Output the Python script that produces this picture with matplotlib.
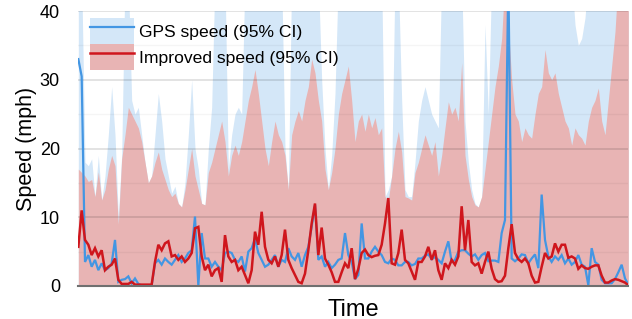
import numpy as np
import matplotlib
matplotlib.use("Agg")
import matplotlib.pyplot as plt
from matplotlib.patches import Patch
from matplotlib.lines import Line2D

plt.rcParams['font.family'] = ['Liberation Sans', 'DejaVu Sans']

# ---------------- data (speed in mph, uniform time samples) ----------------
gps_speed = [
    33.0, 30.5, 3.5, 4.5, 2.8, 3.8, 2.3, 3.3, 2.3, 2.6,
    3.3, 6.7, 0.6, 0.9, 1.0, 1.4, 0.4, 1.1, 0.3, 0.1,
    0.1, 0.1, 0.1, 3.3, 3.8, 3.1, 4.0, 3.5, 3.1, 3.8,
    4.5, 3.5, 4.0, 4.8, 5.2, 10.1, 0.0, 7.7, 4.0, 4.0,
    2.8, 3.5, 2.8, 2.3, 4.8, 5.0, 4.8, 3.8, 3.5, 4.3,
    2.1, 5.0, 5.5, 6.9, 4.8, 3.8, 2.8, 3.1, 3.8, 4.5,
    2.8, 3.8, 3.5, 5.5, 4.3, 3.8, 4.8, 2.8, 4.5, 5.7,
    8.6, 11.8, 3.8, 4.3, 2.8, 3.5, 2.6, 3.1, 3.8, 4.0,
    7.7, 4.5, 3.5, 1.0, 1.6, 9.1, 4.0, 4.0, 5.0, 5.7,
    5.0, 4.5, 3.5, 3.3, 4.0, 3.8, 3.0, 3.0, 3.5, 3.5,
    3.0, 3.2, 4.0, 4.0, 4.4, 4.6, 3.9, 4.2, 3.8, 3.3,
    5.0, 6.5, 3.5, 3.8, 5.0, 5.2, 5.2, 4.7, 4.3, 4.6,
    3.8, 4.5, 4.8, 3.6, 3.7, 3.7, 3.5, 7.7, 9.6, 45.0,
    4.0, 3.6, 4.0, 4.6, 4.5, 3.3, 4.0, 4.6, 2.6, 13.3,
    6.7, 4.3, 3.5, 4.3, 3.8, 4.5, 3.3, 4.0, 3.1, 3.5,
    4.5, 3.1, 2.8, 0.1, 5.5, 3.5, 3.1, 0.9, 0.4, 0.4,
    0.4, 1.0, 2.0, 3.1, 1.1, 0.2,
]

improved_speed = [
    5.7, 11.0, 6.7, 6.0, 4.5, 5.5, 4.3, 5.2, 2.3, 2.8,
    3.1, 4.0, 0.9, 0.3, 0.3, 0.3, 0.6, 0.2, 0.2, 0.2,
    0.2, 0.2, 0.2, 3.5, 6.0, 5.2, 6.2, 6.5, 4.3, 4.5,
    3.8, 4.3, 3.5, 4.0, 4.8, 8.4, 8.6, 4.3, 2.3, 3.1,
    1.4, 2.3, 2.6, 0.6, 7.4, 4.3, 3.5, 3.8, 2.3, 2.8,
    1.6, 0.4, 2.3, 7.9, 6.0, 10.8, 5.7, 3.8, 3.3, 4.3,
    2.8, 4.5, 8.2, 3.8, 2.6, 1.6, 0.6, 0.4, 1.8, 5.2,
    9.1, 12.0, 4.5, 8.5, 4.0, 3.1, 2.0, 0.6, 0.6, 2.0,
    3.3, 2.6, 5.5, 1.0, 2.5, 4.8, 5.3, 4.5, 4.2, 4.4,
    4.5, 6.0, 9.1, 12.8, 3.3, 3.1, 4.8, 8.2, 3.8, 3.3,
    2.1, 0.9, 3.5, 3.5, 4.3, 5.7, 3.8, 5.2, 2.3, 0.9,
    3.3, 2.6, 3.8, 3.1, 4.3, 11.6, 5.2, 9.6, 3.5, 3.0,
    3.3, 1.8, 3.5, 5.0, 2.5, 1.0, 0.6, 0.7, 1.5, 5.5,
    9.0, 4.8, 3.9, 3.5, 4.0, 3.3, 1.5, 0.5, 0.6, 2.8,
    4.8, 4.0, 4.3, 6.2, 5.0, 6.0, 6.0, 4.1, 4.3, 4.0,
    2.5, 3.0, 2.6, 2.5, 2.8, 3.0, 3.0, 1.5, 0.5, 0.5,
    0.8, 1.0, 0.9, 0.7, 0.5, 0.1,
]

gps_upper = [
    45, 45, 18, 17.5, 18.5, 13, 19, 12.5, 16, 22,
    29, 22, 10, 19, 45, 45, 27, 25, 26, 22,
    18, 15, 16, 22, 28, 24, 18.5, 16, 13.5, 14.5,
    12, 11.5, 15, 22, 30, 20, 17, 12, 11.8, 20,
    26, 45, 45, 45, 45, 17, 22, 25, 26, 25,
    45, 45, 45, 45, 45, 45, 45, 45, 45, 45,
    45, 45, 20, 14, 45, 45, 45, 45, 45, 45,
    45, 45, 45, 30, 20, 14, 19, 28, 45, 45,
    45, 45, 45, 45, 45, 45, 45, 45, 45, 45,
    45, 45, 13, 14, 16, 45, 45, 27, 14, 13,
    13, 18, 24, 27, 29, 27, 25, 24, 23, 45,
    45, 45, 45, 45, 45, 45, 24, 18, 14, 12,
    11.5, 13, 38, 25, 45, 45, 45, 45, 45, 45,
    45, 45, 45, 45, 45, 45, 45, 45, 45, 45,
    45, 45, 45, 45, 45, 45, 45, 45, 45, 38,
    35, 36, 39, 45, 45, 45, 45, 45, 45, 45,
    45, 45, 45, 45, 45, 45,
]

improved_upper = [
    17, 16.5, 16, 15.2, 15.5, 13, 16.6, 12.5, 14, 17,
    19, 17.5, 9, 18.5, 22, 26, 25, 24, 23, 21,
    18, 15, 16, 18, 19.5, 17, 15.5, 14, 13, 13.5,
    12, 11.5, 14, 17, 20, 16, 14, 12, 11.8, 16.5,
    18, 20, 22, 24, 21, 16, 19, 20.5, 19, 21,
    24, 27, 29, 31.5, 28, 24, 20, 17.5, 21, 24,
    22, 21, 19, 14, 22, 24, 25.5, 24, 27, 29,
    33, 31, 27, 24, 17, 14, 16.5, 20, 25, 28,
    30, 32, 27, 21, 24, 25, 22.5, 25, 23, 24.5,
    22, 23, 13, 12.5, 16, 20, 22.5, 19.5, 13, 12.8,
    12.5, 16.5, 18, 20, 22, 20.5, 19, 21, 16, 19,
    23, 26.8, 25, 26, 24, 32.5, 19, 15.5, 13, 11.8,
    11.5, 13, 17, 21, 25, 29, 32, 36, 45, 38,
    30, 25, 24, 21, 23, 22, 21.5, 25, 28, 29,
    34.4, 31, 30, 31, 28, 26, 24, 23, 20.5, 23,
    22, 21.5, 20.5, 24, 26, 27, 28.8, 24, 22, 27,
    32, 37, 45, 45, 45, 45,
]

time = np.arange(len(gps_speed))

labels = ["GPS speed (95% CI)", "Improved speed (95% CI)"]
y_ticks = [0, 10, 20, 30, 40]

# ---------------- style ----------------
blue_line = '#4396e3'
red_line = '#cf161d'
blue_fill = '#d4e7f8'
red_fill = '#e8b4b4'

fig = plt.figure(figsize=(6.32, 3.19), dpi=100)
ax = fig.add_axes([78 / 632, 1 - 286 / 319, 550 / 632, 275 / 319])

ax.fill_between(time, 0, gps_upper, color=blue_fill, lw=0, zorder=1)
ax.fill_between(time, 0, improved_upper, color=red_fill, lw=0, zorder=1.5)
ax.plot(time, gps_speed, color=blue_line, lw=1.6, zorder=3, solid_joinstyle='miter')
ax.plot(time, improved_speed, color=red_line, lw=1.8, zorder=4, solid_joinstyle='miter')

ax.set_xlim(-0.1, 164.9)
ax.set_ylim(0, 40)
ax.set_yticks(y_ticks)
ax.set_yticks([5, 15, 25, 35], minor=True)
ax.set_xticks([])
ax.tick_params(axis='y', which='both', length=0, pad=13, labelsize=13)
ax.grid(True, axis='y', which='major', color='black', alpha=0.13, lw=1.2)
ax.grid(True, axis='y', which='minor', color='black', alpha=0.04, lw=1.0)
ax.set_axisbelow(False)

for side in ['left', 'right', 'top']:
    ax.spines[side].set_visible(False)
ax.spines['bottom'].set_color('#707070')
ax.spines['bottom'].set_linewidth(1.5)
ax.spines['bottom'].set_zorder(5)

ax.set_ylabel("Speed (mph)", fontsize=15.5, labelpad=2)
ax.set_xlabel("Time", fontsize=17, labelpad=9)

handles = [
    (Patch(facecolor=blue_fill, edgecolor='none'), Line2D([], [], color=blue_line, lw=1.6)),
    (Patch(facecolor=red_fill, edgecolor='none'), Line2D([], [], color=red_line, lw=1.8)),
]
ax.legend(handles, labels, loc='upper left', bbox_to_anchor=(0.009, 1.0),
          borderaxespad=0, frameon=False, fontsize=12.6, handlelength=2.5,
          handleheight=1.91, labelspacing=0, handletextpad=0.3, borderpad=0.4)

fig.savefig("out.png", dpi=100)
